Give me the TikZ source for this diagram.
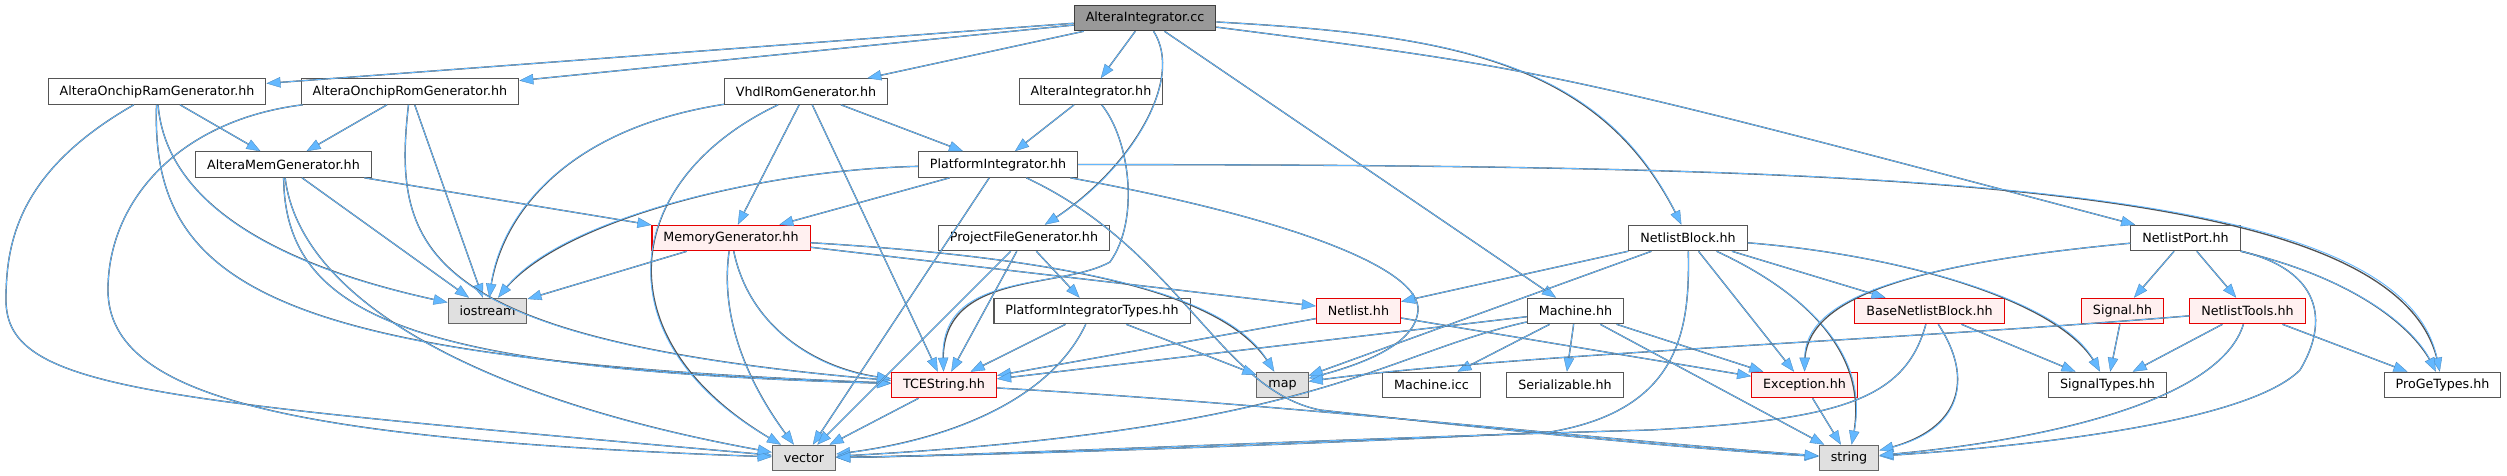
\documentclass[tikz,border=0pt]{standalone}
\usepackage{fontspec}
\setmainfont{DejaVu Sans}
\usetikzlibrary{arrows.meta}
\definecolor{edgeblue}{HTML}{63B8FF}
\definecolor{edgedark}{HTML}{404040}
\definecolor{boxgray}{HTML}{555555}
\definecolor{redfill}{HTML}{FFF0F0}
\definecolor{sysfill}{HTML}{E0E0E0}
\definecolor{rootfill}{HTML}{999999}
\tikzset{
  nd/.style={draw=boxgray, fill=white, line width=1.1pt, rectangle, inner xsep=11.5pt, inner ysep=0pt,
    minimum height=25.5pt, font=\fontsize{12.7pt}{15pt}\selectfont, text=black},
  rednd/.style={nd, draw=red!90!black, fill=redfill},
  sysnd/.style={nd, draw=edgedark!80, fill=sysfill},
  rootnd/.style={nd, draw=edgedark, fill=rootfill},
  e/.style={draw=edgeblue, line width=0.85pt,
    -{Triangle[length=14pt,width=10.5pt,color=edgeblue!75!black,fill=edgeblue,line width=0.35pt]},
    preaction={draw=edgedark!90, line width=1.35pt, -, shorten >=9pt}}
}
\begin{document}
\begin{tikzpicture}[x=1pt,y=-1pt]
\fill[white] (0,0) rectangle (2507,476);
\useasboundingbox (0,0) rectangle (2507,476);
% row 0
\node[rootnd] (cc) at (1145,18) {AlteraIntegrator.cc};
% row 1
\node[nd] (ram) at (157,91.5) {AlteraOnchipRamGenerator.hh};
\node[nd] (rom) at (410,91.5) {AlteraOnchipRomGenerator.hh};
\node[nd] (vhdl) at (806,91.5) {VhdlRomGenerator.hh};
\node[nd] (aihh) at (1091,91.5) {AlteraIntegrator.hh};
% row 2
\node[nd] (amem) at (283.5,164.5) {AlteraMemGenerator.hh};
\node[nd] (pint) at (998,164.5) {PlatformIntegrator.hh};
% row 3
\node[rednd] (mgen) at (731,238) {MemoryGenerator.hh};
\node[nd] (pfg) at (1024,238) {ProjectFileGenerator.hh};
\node[nd] (nblock) at (1688,238) {NetlistBlock.hh};
\node[nd] (nport) at (2185.5,238) {NetlistPort.hh};
% row 4
\node[sysnd] (iost) at (487.5,311) {iostream};
\node[nd] (pit) at (1092,311) {PlatformIntegratorTypes.hh};
\node[rednd] (netl) at (1358.5,311) {Netlist.hh};
\node[nd] (mach) at (1575.5,311) {Machine.hh};
\node[rednd] (bnb) at (1929.5,311) {BaseNetlistBlock.hh};
\node[rednd] (sig) at (2122.5,311) {Signal.hh};
\node[rednd] (ntools) at (2247.5,311) {NetlistTools.hh};
% row 5
\node[rednd] (tce) at (944,385) {TCEString.hh};
\node[sysnd] (map) at (1282.5,385) {map};
\node[nd] (micc) at (1431.5,385) {Machine.icc};
\node[nd] (ser) at (1565,385) {Serializable.hh};
\node[rednd] (exc) at (1804.5,385) {Exception.hh};
\node[nd] (stypes) at (2107.5,385) {SignalTypes.hh};
\node[nd] (proge) at (2442.5,385) {ProGeTypes.hh};
% row 6
\node[sysnd] (vec) at (804,458) {vector};
\node[sysnd] (str) at (1849,458) {string};

% root
\draw[e] (cc) -- (ram);
\draw[e] (cc) -- (rom);
\draw[e] (cc) -- (vhdl);
\draw[e] (cc) -- (aihh);
\draw[e] (cc) .. controls (1185,80) and (1130,170) .. (pfg);
\draw[e] (cc) -- (mach);
\draw[e] (cc) .. controls (1450,35) and (1600,60) .. (nblock);
\draw[e] (cc) .. controls (1550,70) .. (nport);
% ram
\draw[e] (ram) -- (amem);
\draw[e] (ram) .. controls (20,170) and (6,240) .. (6,300) .. controls (6,390) and (150,400) .. (vec);
\draw[e] (ram) .. controls (165,190) and (250,260) .. (iost);
\draw[e] (ram) .. controls (150,290) and (280,360) .. (tce);
% rom
\draw[e] (rom) -- (amem);
\draw[e] (rom) .. controls (180,120) and (108,200) .. (108,290) .. controls (108,400) and (300,440) .. (vec);
\draw[e] (rom) -- (iost);
\draw[e] (rom) .. controls (392,250) and (420,340) .. (tce);
% vhdl
\draw[e] (vhdl) .. controls (560,130) and (500,220) .. (iost);
\draw[e] (vhdl) .. controls (620,180) and (600,340) .. (vec);
\draw[e] (vhdl) -- (mgen);
\draw[e] (vhdl) -- (tce);
\draw[e] (vhdl) -- (pint);
% amem
\draw[e] (amem) -- (mgen);
\draw[e] (amem) -- (iost);
\draw[e] (amem) .. controls (300,300) and (480,400) .. (vec);
\draw[e] (amem) .. controls (285,320) and (420,370) .. (tce);
% aihh
\draw[e] (aihh) -- (pint);
\draw[e] (aihh) .. controls (1130,140) and (1140,220) .. (1110,262) .. controls (1060,290) and (940,270) .. (tce);
% pint
\draw[e] (pint) .. controls (760,170) and (560,220) .. (iost);
\draw[e] (pint) -- (mgen);
\draw[e] (pint) -- (vec);
\draw[e] (pint) .. controls (1300,220) and (1420,270) .. (1418,310) .. controls (1416,345) and (1360,365) .. (map);
\draw[e] (pint) .. controls (1180,250) and (1220,390) .. (1320,410) .. controls (1500,430) and (1700,450) .. (str);
\draw[e] (pint) .. controls (1900,165) and (2400,180) .. (proge);
% mgen
\draw[e] (mgen) -- (iost);
\draw[e] (mgen) .. controls (718,330) and (760,400) .. (vec);
\draw[e] (mgen) .. controls (750,330) and (820,370) .. (tce);
\draw[e] (mgen) -- (netl);
\draw[e] (mgen) .. controls (1100,260) and (1230,300) .. (map);
% pfg
\draw[e] (pfg) -- (pit);
\draw[e] (pfg) -- (tce);
\draw[e] (pfg) -- (vec);
% pit
\draw[e] (pit) -- (tce);
\draw[e] (pit) -- (map);
\draw[e] (pit) .. controls (1050,400) and (950,440) .. (vec);
% netl
\draw[e] (netl) -- (tce);
\draw[e] (netl) -- (exc);
% mach
\draw[e] (mach) -- (tce);
\draw[e] (mach) -- (micc);
\draw[e] (mach) -- (ser);
\draw[e] (mach) -- (exc);
\draw[e] (mach) -- (str);
\draw[e] (mach) .. controls (1380,355) and (1320,430) .. (vec);
% nblock
\draw[e] (nblock) -- (netl);
\draw[e] (nblock) -- (map);
\draw[e] (nblock) .. controls (1690,330) and (1680,410) .. (1550,432) .. controls (1300,445) and (1000,455) .. (vec);
\draw[e] (nblock) -- (exc);
\draw[e] (nblock) .. controls (1800,290) and (1870,350) .. (str);
\draw[e] (nblock) -- (bnb);
\draw[e] (nblock) .. controls (1900,255) and (2060,300) .. (stypes);
% bnb
\draw[e] (bnb) .. controls (1905,400) and (1840,420) .. (1650,430) .. controls (1300,440) and (1000,455) .. (vec);
\draw[e] (bnb) .. controls (1975,380) and (1960,430) .. (str);
\draw[e] (bnb) -- (stypes);
% nport
\draw[e] (nport) .. controls (1900,265) and (1805,300) .. (exc);
\draw[e] (nport) -- (sig);
\draw[e] (nport) -- (ntools);
\draw[e] (nport) .. controls (2360,280) and (2415,330) .. (proge);
\draw[e] (nport) .. controls (2320,270) and (2330,320) .. (2300,370) .. controls (2250,420) and (2050,445) .. (str);
% sig
\draw[e] (sig) -- (stypes);
% ntools
\draw[e] (ntools) .. controls (1900,340) and (1500,355) .. (map);
\draw[e] (ntools) -- (stypes);
\draw[e] (ntools) .. controls (2220,400) and (2050,440) .. (str);
\draw[e] (ntools) -- (proge);
% exc
\draw[e] (exc) -- (str);
% tce
\draw[e] (tce) -- (vec);
\draw[e] (tce) .. controls (1300,405) and (1600,440) .. (str);
\end{tikzpicture}
\end{document}
